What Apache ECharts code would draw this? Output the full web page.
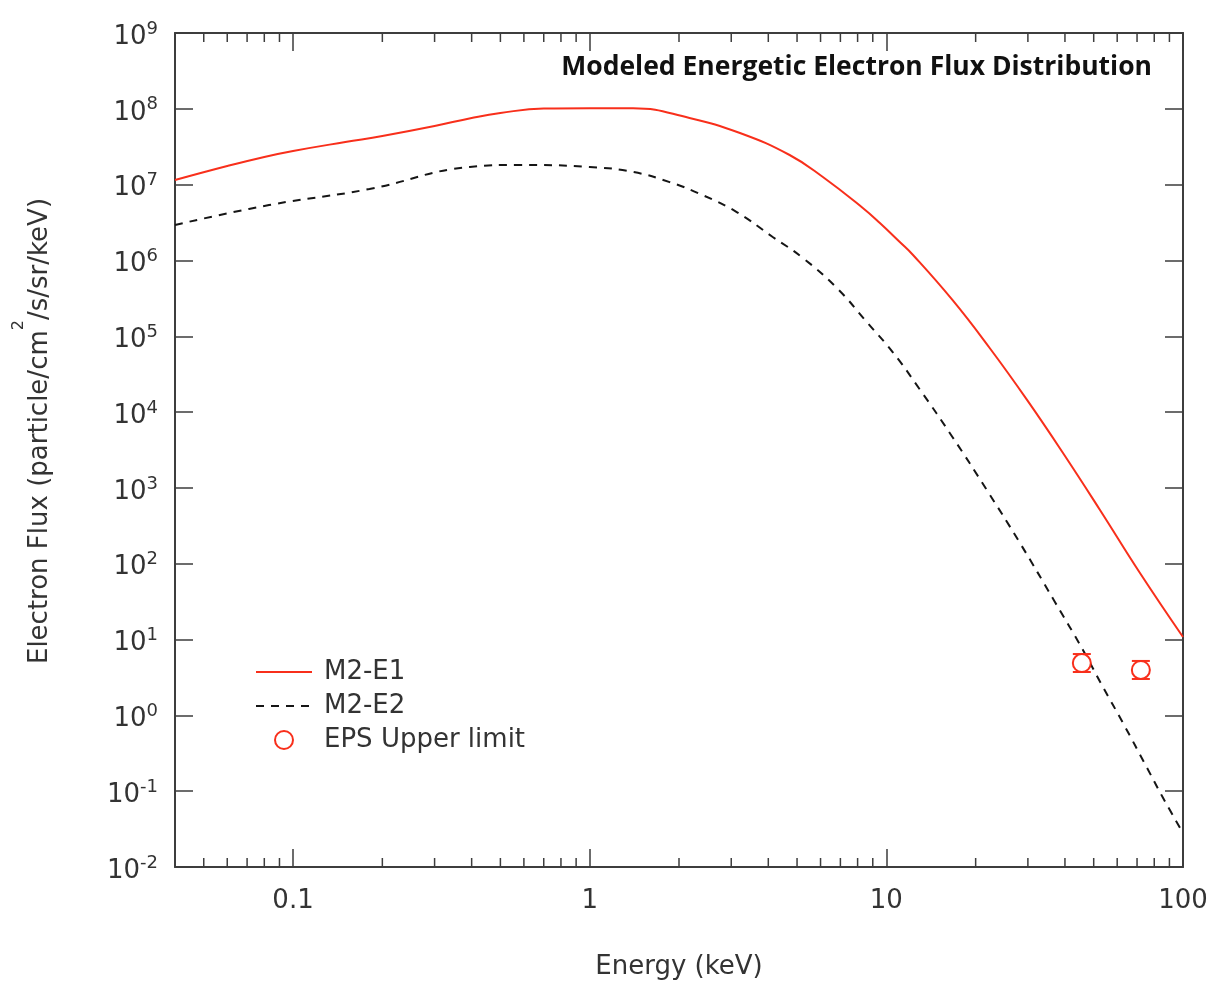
<!DOCTYPE html>
<html>
<head>
<meta charset="utf-8">
<script src="https://cdn.jsdelivr.net/npm/echarts@6/dist/echarts.min.js"></script>
<style>
  html, body { margin: 0; padding: 0; background: #ffffff; }
  #chart { width: 1217px; height: 986px; }
</style>
</head>
<body>
<div id="chart"></div>
<script>
// ---- data ----
const energyE1 = [0.04, 0.06, 0.08, 0.1, 0.15, 0.2, 0.3, 0.4, 0.5, 0.7, 1.0, 1.4, 2.17, 3.21, 4.72, 6.11, 8.33, 9.51, 11.1, 12.3, 16.7, 22.3, 29.8, 39.4, 52.5, 71.6, 100];
const fluxE1   = [1.15e7, 1.76e7, 2.32e7, 2.78e7, 3.65e7, 4.38e7, 5.93e7, 7.57e7, 8.81e7, 1.01e8, 1.02e8, 1.02e8, 7.57e7, 4.80e7, 2.46e7, 1.26e7, 4.92e6, 3.12e6, 1.75e6, 1.18e6, 3.01e5, 7.0e4, 1.45e4, 2.89e3, 512, 75.5, 10.8];

const energyE2 = [0.04, 0.083, 0.181, 0.394, 0.581, 1.0, 1.40, 1.86, 2.40, 3.13, 4.14, 5.23, 6.81, 8.59, 10.5, 13.0, 16.7, 21.8, 28.2, 37.0, 46.0, 53.7, 62.8, 75.7, 85.7, 100];
const fluxE2   = [2.94e6, 5.38e6, 8.75e6, 1.71e7, 1.82e7, 1.71e7, 1.47e7, 1.08e7, 7.30e6, 4.35e6, 2.04e6, 1.08e6, 4.33e5, 1.54e5, 6.2e4, 1.96e4, 4.70e3, 940, 188, 31.3, 7.28, 2.37, 0.79, 0.202, 0.0813, 0.0281];

const energyEPS = [45.6, 72.1];
const fluxEPS   = [4.9, 3.97];
const errLowEPS  = [3.73, 3.02];
const errHighEPS = [6.44, 5.22];

const xMin = 0.04, xMax = 100;
const yExpTicks = [-2, -1, 0, 1, 2, 3, 4, 5, 6, 7, 8, 9];
const xMinorTicks = [0.05, 0.06, 0.07, 0.08, 0.09,
  0.2, 0.3, 0.4, 0.5, 0.6, 0.7, 0.8, 0.9,
  2, 3, 4, 5, 6, 7, 8, 9,
  20, 30, 40, 50, 60, 70, 80, 90];

const seriesNames = ['M2-E1', 'M2-E2', 'EPS Upper limit'];
const chartTitle = 'Modeled Energetic Electron Flux Distribution';

// ---- styles ----
const axisColor = '#3d3d3d';
const textColor = '#333333';
const red = '#f82f1b';
const black = '#151515';
const font = 'DejaVu Sans';

const zip = (a, b) => a.map((v, i) => [v, b[i]]);

const chart = echarts.init(document.getElementById('chart'), null, { renderer: 'canvas' });

const option = {
  animation: false,
  backgroundColor: '#ffffff',
  title: {
    text: chartTitle,
    right: 65,
    top: 54,
    padding: 0,
    textStyle: { fontFamily: 'Open Sans', fontWeight: 'bold', fontSize: 26.5, color: '#111111' }
  },
  legend: {
    data: [
      { name: seriesNames[0], itemStyle: { opacity: 0 } },
      { name: seriesNames[1], itemStyle: { opacity: 0 } },
      { name: seriesNames[2] }
    ],
    orient: 'vertical',
    left: 255,
    top: 659,
    padding: 0,
    itemWidth: 56,
    itemHeight: 18,
    itemGap: 8,
    textStyle: { fontFamily: font, fontSize: 26, color: textColor, padding: [0, 0, 0, 7] }
  },
  grid: { left: 175, right: 34, top: 33, bottom: 119, containLabel: false },
  xAxis: [
    {
      type: 'log', min: xMin, max: xMax, position: 'bottom',
      name: 'Energy (keV)', nameLocation: 'middle', nameGap: 87,
      nameTextStyle: { fontFamily: font, fontSize: 26, color: textColor },
      axisLine: { show: true, onZero: false, lineStyle: { color: axisColor, width: 2 } },
      axisTick: { show: true, inside: true, length: 18, lineStyle: { color: axisColor, width: 1.5 } },
      minorTick: { show: false },
      splitLine: { show: false },
      axisLabel: {
        show: true, margin: 21, showMinLabel: false,
        fontFamily: font, fontSize: 26, color: textColor,
        formatter: v => String(+(+v).toPrecision(6))
      }
    },
    {
      type: 'log', min: xMin, max: xMax, position: 'top',
      axisLine: { show: true, onZero: false, lineStyle: { color: axisColor, width: 2 } },
      axisTick: { show: true, inside: true, length: 18, lineStyle: { color: axisColor, width: 1.5 } },
      splitLine: { show: false },
      axisLabel: { show: false }
    }
  ],
  yAxis: [
    {
      type: 'value', min: yExpTicks[0], max: yExpTicks[yExpTicks.length - 1], interval: 1, position: 'left',
      name: 'Electron Flux (particle/cm{s|2}/s/sr/keV)', nameLocation: 'middle', nameGap: 105,
      nameTextStyle: {
        fontFamily: font, fontSize: 26, color: textColor, lineHeight: 59, padding: [0, 0, 0, 38],
        rich: { s: { fontFamily: font, fontSize: 16, color: textColor, lineHeight: 16, verticalAlign: 'top' } }
      },
      axisLine: { show: true, onZero: false, lineStyle: { color: axisColor, width: 2 } },
      axisTick: { show: true, inside: true, length: 18, lineStyle: { color: axisColor, width: 1.5 } },
      splitLine: { show: false },
      axisLabel: {
        show: true, margin: 17, padding: [8, 0, 0, 0],
        formatter: v => '{b|10}{s|' + v + '}',
        rich: {
          b: { fontFamily: font, fontSize: 26, color: textColor, lineHeight: 34 },
          s: { fontFamily: font, fontSize: 18, color: textColor, lineHeight: 18, verticalAlign: 'top' }
        }
      }
    },
    {
      type: 'value', min: yExpTicks[0], max: yExpTicks[yExpTicks.length - 1], interval: 1, position: 'right',
      axisLine: { show: true, onZero: false, lineStyle: { color: axisColor, width: 2 } },
      axisTick: { show: true, inside: true, length: 18, lineStyle: { color: axisColor, width: 1.5 } },
      splitLine: { show: false },
      axisLabel: { show: false }
    },
    {
      type: 'log', min: Math.pow(10, yExpTicks[0]), max: Math.pow(10, yExpTicks[yExpTicks.length - 1]),
      position: 'left', show: false
    }
  ],
  series: [
    {
      name: seriesNames[0], type: 'line', xAxisIndex: 0, yAxisIndex: 2,
      data: zip(energyE1, fluxE1),
      symbol: 'none', smooth: 0.45,
      lineStyle: { color: red, width: 2 },
      itemStyle: { color: red },
      z: 3
    },
    {
      name: seriesNames[1], type: 'line', xAxisIndex: 0, yAxisIndex: 2,
      data: zip(energyE2, fluxE2),
      symbol: 'none', smooth: 0.45,
      lineStyle: { color: black, width: 2, type: [8, 7] },
      itemStyle: { color: black },
      z: 3
    },
    {
      name: seriesNames[2], type: 'scatter', xAxisIndex: 0, yAxisIndex: 2,
      data: zip(energyEPS, fluxEPS),
      symbol: 'emptyCircle', symbolSize: 18,
      itemStyle: { color: red, borderColor: red, borderWidth: 2, opacity: 1 },
      z: 4
    },
    {
      name: 'EPS error', type: 'custom', xAxisIndex: 0, yAxisIndex: 2,
      data: energyEPS.map((e, i) => [e, fluxEPS[i], errLowEPS[i], errHighEPS[i]]),
      renderItem: function (params, api) {
        const xv = api.value(0);
        const lo = api.coord([xv, api.value(2)]);
        const hi = api.coord([xv, api.value(3)]);
        const w = 9;
        const st = { stroke: red, lineWidth: 2, fill: null };
        return {
          type: 'group',
          children: [
            { type: 'line', shape: { x1: lo[0], y1: lo[1], x2: hi[0], y2: hi[1] }, style: st },
            { type: 'line', shape: { x1: lo[0] - w, y1: lo[1], x2: lo[0] + w, y2: lo[1] }, style: st },
            { type: 'line', shape: { x1: hi[0] - w, y1: hi[1], x2: hi[0] + w, y2: hi[1] }, style: st }
          ]
        };
      },
      silent: true, z: 4
    },
    {
      name: 'minor ticks', type: 'custom', xAxisIndex: 0, yAxisIndex: 2,
      data: xMinorTicks.map(v => [v, 1]),
      renderItem: function (params, api) {
        const x = api.coord([api.value(0), 1])[0];
        const cs = params.coordSys;
        const b = cs.y + cs.height;
        const st = { stroke: axisColor, lineWidth: 1.5 };
        return {
          type: 'group',
          children: [
            { type: 'line', shape: { x1: x, y1: b, x2: x, y2: b - 9 }, style: st },
            { type: 'line', shape: { x1: x, y1: cs.y, x2: x, y2: cs.y + 9 }, style: st }
          ]
        };
      },
      silent: true, clip: false, z: 2
    }
  ]
};

chart.setOption(option);
</script>
</body>
</html>
